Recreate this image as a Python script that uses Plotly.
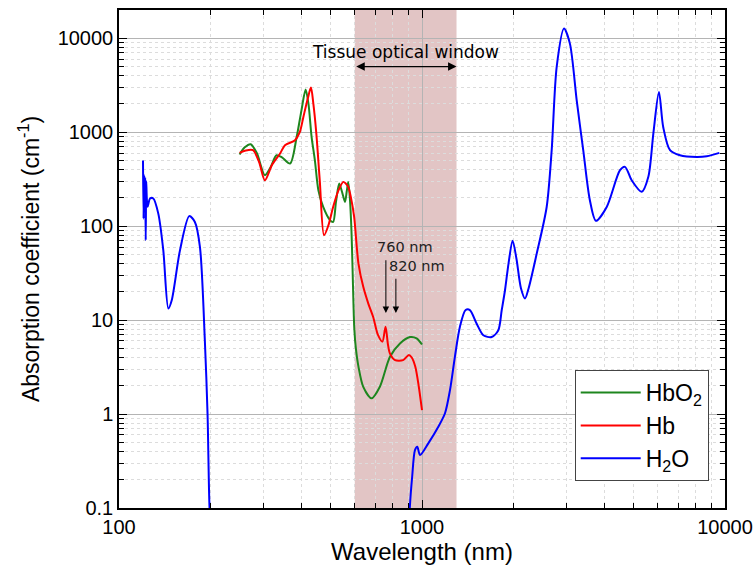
import math
import plotly.graph_objects as go

# ---------------- data ----------------
hbo2_wl = [250, 260, 272, 285, 303, 316, 331, 345, 367, 386, 400, 413, 422, 432,
           443, 455, 472, 497, 509, 520, 533, 545, 557, 565, 571, 578, 585, 590,
           594, 598, 605, 617, 640, 682, 726, 784, 846, 913, 960, 1000]
hbo2_mu = [580, 690, 745, 600, 349, 420, 569, 540, 464, 900, 1700, 2844, 2000, 900,
           504, 241, 160, 116, 111, 180, 284, 230, 181, 240, 296, 200, 90, 35,
           15, 8, 5.0, 3.2, 1.95, 1.47, 1.95, 4.07, 5.65, 6.6, 6.4, 5.5]

hb_wl = [250, 262, 277, 290, 303, 320, 340, 353, 381, 395, 406, 420, 430, 438,
         448, 460, 475, 490, 509, 530, 550, 560, 571, 583, 597, 617, 640, 665,
         690, 715, 740, 758, 772, 784, 815, 866, 905, 925, 950, 975, 1000]
hb_mu = [603, 640, 644, 480, 308, 450, 593, 727, 822, 1000, 1455, 2300, 2985, 2000,
         968, 300, 80, 100, 160, 240, 296, 285, 262, 200, 126, 40, 22.6, 15,
         10.8, 7.0, 5.9, 8.5, 5.5, 4.4, 3.75, 3.75, 4.25, 4.0, 3.2, 2.0, 1.1]

h2o_wl = [120, 120.5, 121, 121.5, 122, 122.5, 123, 123.5, 124.3, 126.6, 129.8,
          134.8, 140, 145.5, 149.3, 159, 170.6, 178, 185, 192, 196, 199, 202,
          None,
          905, 912, 928, 948, 965, 985, 1049, 1132, 1191, 1237, 1284, 1334, 1393,
          1439, 1514, 1594, 1698, 1786, 1833, 1879, 1930, 1991, 2050, 2120, 2188,
          2250, 2391, 2579, 2679, 2783, 2942, 3077, 3240, 3405, 3581, 3750, 4070,
          4503, 4677, 4921, 5309, 5585, 5801, 6053, 6252, 6585, 7100, 8066, 8710,
          9580]
h2o_mu = [500, 120, 350, 150, 330, 71, 300, 200, 161, 197, 197,
          136, 55.6, 13.3, 16.3, 55.6, 128, 111, 60, 6.1, 1.0, 0.1, 0.05,
          None,
          0.05, 0.103, 0.215, 0.414, 0.449, 0.366, 0.488, 0.733, 1.02, 1.8, 4.07, 8.5, 12.8,
          12.8, 9.2, 6.9, 6.6, 7.8, 12.8, 20.8, 40, 70, 45, 22, 17,
          22, 51, 160, 644, 4955, 12680, 8770, 2188, 644, 189, 114, 160,
          394, 428, 308, 232, 335, 968, 2685, 1137, 644, 569, 546, 556,
          603]

window_nm = [600, 1300]
marker_nm = [760, 820]
x_ticks = [100, 1000, 10000]
y_ticks = [0.1, 1, 10, 100, 1000, 10000]
y_ticktext = ["0.1", "1", "10", "100", "1000", "10000"]

# ---------------- figure ----------------
fig = go.Figure()
fig.add_trace(go.Scatter(x=hbo2_wl, y=hbo2_mu, mode="lines", name="HbO<sub>2</sub>",
                         line=dict(color="#1e861e", width=2, shape="spline", smoothing=0.8)))
fig.add_trace(go.Scatter(x=hb_wl, y=hb_mu, mode="lines", name="Hb",
                         line=dict(color="#ff0000", width=2, shape="spline", smoothing=0.8)))
fig.add_trace(go.Scatter(x=h2o_wl, y=h2o_mu, mode="lines", name="H<sub>2</sub>O",
                         connectgaps=False,
                         line=dict(color="#0000ff", width=2, shape="spline", smoothing=0.8)))

minor_x = [m * 10 ** d for d in (2, 3) for m in range(2, 10)]
minor_y = [m * 10 ** d for d in (-1, 0, 1, 2, 3, 4) for m in range(2, 10)]

axis_common = dict(
    type="log", showline=True, linecolor="black", linewidth=1.5, mirror="allticks",
    ticks="inside", ticklen=8, tickwidth=1.2, tickcolor="black", automargin=False,
    showgrid=True, gridcolor="#b4b4b4", gridwidth=1, zeroline=False,
    tickfont=dict(family="Liberation Sans, Arial", size=20, color="black"),
)

fig.update_xaxes(**axis_common, range=[2, 4], tickmode="array", tickvals=x_ticks,
                 ticktext=[str(v) for v in x_ticks],
                 minor=dict(tickmode="array", tickvals=minor_x, ticks="inside", ticklen=5,
                            tickcolor="black", showgrid=True, gridcolor="#dcdcdc",
                            griddash="dot", gridwidth=1),
                 title=dict(text="Wavelength (nm)", standoff=3,
                            font=dict(family="Liberation Sans, Arial", size=24, color="black")))
fig.update_yaxes(**axis_common, range=[-1, math.log10(20000)], tickmode="array",
                 tickvals=y_ticks, ticktext=y_ticktext,
                 minor=dict(tickmode="array", tickvals=minor_y, ticks="inside", ticklen=5,
                            tickcolor="black", showgrid=True, gridcolor="#dcdcdc",
                            griddash="dot", gridwidth=1),
                 title=dict(text="Absorption coefficient (cm<sup>-1</sup>)", standoff=12,
                            font=dict(family="Liberation Sans, Arial", size=23, color="black")))

# tissue optical window shading
fig.add_shape(type="rect", xref="x", yref="paper", x0=window_nm[0], x1=window_nm[1],
              y0=0, y1=1, fillcolor="rgba(175,95,95,0.36)", line=dict(width=0), layer="below")

lg = math.log10
ann_font = dict(family="DejaVu Sans", size=17, color="black")
# double arrow across window
fig.add_annotation(x=lg(window_nm[1]), y=lg(5000), ax=lg(window_nm[0]), ay=lg(5000),
                   xref="x", yref="y", axref="x", ayref="y", text="", showarrow=True,
                   arrowhead=2, arrowside="end+start", arrowsize=1.3, arrowwidth=1.3,
                   arrowcolor="black", standoff=0, startstandoff=0)
fig.add_annotation(x=lg(math.sqrt(window_nm[0] * window_nm[1])), y=lg(7100), text="Tissue optical window",
                   showarrow=False, xref="x", yref="y", font=ann_font)

# 760 / 820 markers
fig.add_annotation(x=lg(marker_nm[0]), y=lg(11.9), ax=lg(marker_nm[0]), ay=lg(45),
                   xref="x", yref="y", axref="x", ayref="y", text="", showarrow=True,
                   arrowhead=2, arrowsize=1.3, arrowwidth=1, arrowcolor="black")
fig.add_annotation(x=lg(marker_nm[1]), y=lg(11.9), ax=lg(marker_nm[1]), ay=lg(28.6),
                   xref="x", yref="y", axref="x", ayref="y", text="", showarrow=True,
                   arrowhead=2, arrowsize=1.3, arrowwidth=1, arrowcolor="black")
fig.add_annotation(x=lg(879), y=lg(59.8), text=f"{marker_nm[0]} nm", showarrow=False,
                   font=dict(family="DejaVu Sans", size=14.5, color="#222"))
fig.add_annotation(x=lg(963), y=lg(37.5), text=f"{marker_nm[1]} nm", showarrow=False,
                   font=dict(family="DejaVu Sans", size=14.5, color="#222"))

fig.update_layout(
    width=755, height=574,
    margin=dict(l=119, r=30, t=10, b=66),
    paper_bgcolor="white", plot_bgcolor="white",
    showlegend=True,
    legend=dict(x=0.752, y=0.277, xanchor="left", yanchor="top",
                bgcolor="white", bordercolor="#444", borderwidth=1,
                font=dict(family="Liberation Sans, Arial", size=23, color="black"),
                itemwidth=60, tracegroupgap=0),
)

fig.write_html("out.html")
